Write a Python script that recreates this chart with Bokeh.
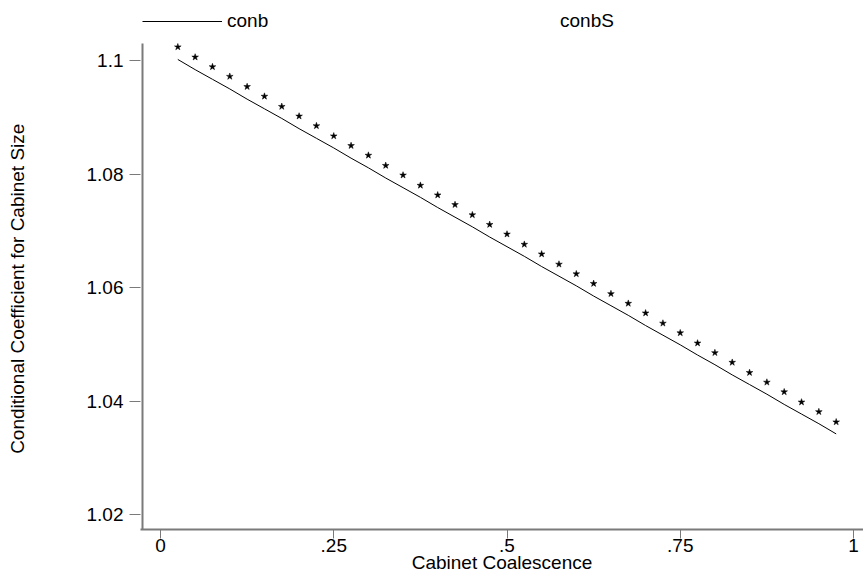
from bokeh.plotting import figure
from bokeh.models import Range1d, FixedTicker, Legend, LegendItem
from bokeh.embed import file_html
from bokeh.resources import INLINE

# ---- data ----
x_vals = [0.025, 0.05, 0.075, 0.1, 0.125, 0.15, 0.175, 0.2, 0.225, 0.25,
          0.275, 0.3, 0.325, 0.35, 0.375, 0.4, 0.425, 0.45, 0.475, 0.5,
          0.525, 0.55, 0.575, 0.6, 0.625, 0.65, 0.675, 0.7, 0.725, 0.75,
          0.775, 0.8, 0.825, 0.85, 0.875, 0.9, 0.925, 0.95, 0.975]
conb = [1.1002, 1.0984, 1.0967, 1.0950, 1.0932, 1.0915, 1.0898, 1.0880, 1.0863, 1.0846,
        1.0828, 1.0811, 1.0793, 1.0776, 1.0759, 1.0741, 1.0724, 1.0707, 1.0689, 1.0672,
        1.0655, 1.0637, 1.0620, 1.0603, 1.0585, 1.0568, 1.0551, 1.0533, 1.0516, 1.0499,
        1.0481, 1.0464, 1.0446, 1.0429, 1.0412, 1.0394, 1.0377, 1.0360, 1.0342]
conbS = [1.1024, 1.1006, 1.0989, 1.0972, 1.0954, 1.0937, 1.0919, 1.0902, 1.0885, 1.0867,
         1.0850, 1.0833, 1.0815, 1.0798, 1.0780, 1.0763, 1.0746, 1.0728, 1.0711, 1.0694,
         1.0676, 1.0659, 1.0641, 1.0624, 1.0607, 1.0589, 1.0572, 1.0555, 1.0537, 1.0520,
         1.0502, 1.0485, 1.0468, 1.0450, 1.0433, 1.0416, 1.0398, 1.0381, 1.0363]
x_ticks = [0, 0.25, 0.5, 0.75, 1]
x_tick_labels = ["0", ".25", ".5", ".75", "1"]
y_ticks = [1.02, 1.04, 1.06, 1.08, 1.1]
y_tick_labels = ["1.02", "1.04", "1.06", "1.08", "1.1"]
series_names = ["conb", "conbS"]
x_title = "Cabinet Coalescence"
y_title = "Conditional Coefficient for Cabinet Size"

FONT = "Liberation Sans"
AXIS_GRAY = "#7a7a7a"

# frame spans the full top of the picture so the legend can sit inside it
Y_TOP, Y_AXIS_TOP, Y_BOTTOM = 1.110588, 1.1030, 1.017353
X_LEFT, X_AXIS = -0.02886, -0.025974

p = figure(width=863, height=578, output_backend="svg", toolbar_location=None,
           x_range=Range1d(X_LEFT, 1.01443), y_range=Range1d(Y_BOTTOM, Y_TOP),
           min_border_left=140, min_border_right=0, min_border_top=0,
           min_border_bottom=49)
p.background_fill_color = "white"
p.border_fill_color = "white"
p.outline_line_color = None
p.grid.visible = False

for ax in (p.xaxis[0], p.yaxis[0]):
    ax.axis_line_color = AXIS_GRAY
    ax.axis_line_width = 2
    ax.major_tick_line_color = AXIS_GRAY
    ax.major_tick_line_width = 1
    ax.minor_tick_line_color = None
    ax.major_tick_in = 0
    ax.major_label_text_font = FONT
    ax.major_label_text_font_size = "19px"
    ax.major_label_text_color = "black"
    ax.axis_label_text_font = FONT
    ax.axis_label_text_font_size = "19px"
    ax.axis_label_text_font_style = "normal"
    ax.axis_label_text_color = "black"

p.xaxis.ticker = FixedTicker(ticks=x_ticks)
p.xaxis.major_label_overrides = {t: l for t, l in zip(x_ticks, x_tick_labels)}
p.xaxis.major_tick_out = 9
p.xaxis.major_label_standoff = 0
p.xaxis.axis_label = x_title
p.xaxis.axis_label_standoff = -3

p.yaxis.ticker = FixedTicker(ticks=y_ticks)
p.yaxis.major_label_overrides = {t: l for t, l in zip(y_ticks, y_tick_labels)}
p.yaxis.major_tick_out = 11
p.yaxis.major_label_standoff = 6
p.yaxis.major_label_orientation = "horizontal"
p.yaxis.axis_line_color = None
# trailing no-break spaces move the centred title down to the plotted axis span
p.yaxis.axis_label = y_title + "\u00a0" * 9
p.yaxis.axis_label_standoff = 56

# visible y-axis line: only over the plotted span
p.segment(x0=[X_AXIS], y0=[Y_AXIS_TOP], x1=[X_AXIS], y1=[Y_BOTTOM],
          line_color=AXIS_GRAY, line_width=2)

r_line = p.line(x_vals, conb, line_color="black", line_width=1)
r_star = p.scatter(x_vals, conbS, marker="star", size=7, fill_color="black",
                   line_color="black", line_width=0.5)
r_blank = p.scatter([], [], marker="star", size=7, fill_alpha=0, line_alpha=0)

legend = Legend(items=[LegendItem(label=series_names[0], renderers=[r_line]),
                       LegendItem(label=series_names[1], renderers=[r_blank])],
                location=(2, 497), orientation="horizontal",
                glyph_width=80, glyph_height=20, label_standoff=5, spacing=0,
                label_width=248, label_height=20,
                padding=0, margin=0, border_line_color=None,
                background_fill_alpha=0, label_text_font=FONT,
                label_text_color="black", label_text_font_size="19px")
p.add_layout(legend)

open("out.html", "w").write(file_html(p, INLINE))
